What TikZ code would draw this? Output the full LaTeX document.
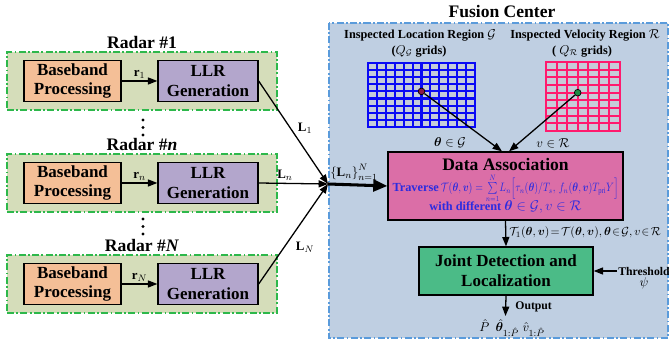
\documentclass[tikz,border=0pt]{standalone}
\usepackage{amsmath}
\usepackage{amssymb}
\usepackage{bm}
\usepackage{fontspec}
\setmainfont{Liberation Serif}
\usepackage{tikz}
\usetikzlibrary{positioning, arrows.meta}

\definecolor{radarbg}{HTML}{D5DDBA}
\definecolor{radarline}{HTML}{2DB84B}
\definecolor{bbfill}{HTML}{F4BF97}
\definecolor{llrfill}{HTML}{B3A6CC}
\definecolor{fusionbg}{HTML}{BFCFE2}
\definecolor{fusionline}{HTML}{5A9BDB}
\definecolor{dafill}{HTML}{DB6EA7}
\definecolor{jdfill}{HTML}{4BBB87}
\definecolor{locblue}{HTML}{0A0AF5}
\definecolor{velpink}{HTML}{FF1A6E}
\definecolor{cellgray}{HTML}{C6CCD9}
\definecolor{txtblue}{HTML}{2B2BE0}
\definecolor{locdot}{HTML}{8B1A4A}
\definecolor{veldot}{HTML}{1E8C45}

\begin{document}
\begin{tikzpicture}[
    x=0.03cm, y=-0.03cm,
    block/.style={draw, line width=1.1pt, minimum height=1.23cm, align=center, inner sep=1pt,
        font=\bfseries\fontsize{14.5}{17}\selectfont},
    bbbox/.style={block, fill=bbfill, minimum width=2.91cm},
    llrbox/.style={block, fill=llrfill, minimum width=3cm},
    radarbox/.style={draw=radarline, fill=radarbg, line width=1.2pt,
        dash pattern=on 6pt off 2pt on 1.5pt off 2pt, minimum width=8.1cm, minimum height=1.74cm},
    title/.style={font=\bfseries\fontsize{15}{17}\selectfont, inner sep=1pt},
    region/.style={font=\bfseries\fontsize{10.5}{12}\selectfont, inner sep=1pt},
    lbl/.style={font=\fontsize{11}{13}\selectfont, inner sep=1pt},
    smalltxt/.style={font=\bfseries\fontsize{10}{12}\selectfont, inner sep=1pt},
    gridline/.style={line width=1.8pt, line cap=rect},
    gridpt/.style={circle, draw=black, line width=0.6pt, minimum size=0.2cm, inner sep=0pt},
    arrow/.style={-{Triangle[length=8pt, width=6pt]}, line width=1.1pt},
    bigarrow/.style={-{Triangle[length=12pt, width=10pt]}, line width=2.6pt}
]
\useasboundingbox (0,0) rectangle (669,348);

% Radars
\foreach \k/\yc/\tit in {1/81/1, n/183/\textit{n}, N/284/\textit{N}} {
    \node[radarbox] (radar\k) at (142,\yc) {};
    \node[title, above=1pt of radar\k] (rtitle\k) {Radar \#\tit};
    \node[bbbox] (bb\k) at (72.5,\yc) {Baseband\\Processing};
    \node[llrbox] (llr\k) at (208,\yc) {LLR\\Generation};
    \draw[arrow] (bb\k) -- node[lbl, above=1pt] {$\mathbf{r}_{\k}$} (llr\k);
}
\foreach \yd in {120,127.5,135,219,226.5,234}
    \fill (143,\yd) circle (1.4pt);

% Fusion center frame
\draw[draw=fusionline, fill=fusionbg, line width=1.3pt,
    dash pattern=on 6pt off 2pt on 1.5pt off 2pt] (329,23) rectangle (668,338);
\node[title] (fctitle) at (502,12) {Fusion Center};
\coordinate (fuse) at (328,184);

% Search grids
\node[region] (loctitle) at (420,35) {Inspected Location Region $\mathcal{G}$};
\node[region] (locgrids) at (419,51) {($Q_{\mathcal{G}}$ grids)};
\node[region] (veltitle) at (585,35) {Inspected Velocity Region $\mathcal{R}$};
\node[region] (velgrids) at (582,51) {( $Q_{\mathcal{R}}$ grids)};

\fill[cellgray] (368,63) rectangle (475,127);
\foreach \c in {0,...,12}
    \draw[locblue, gridline] ({368+\c*107/12},63) -- ({368+\c*107/12},127);
\foreach \r in {0,...,9}
    \draw[locblue, gridline] (368,{63+\r*64/9}) -- (475,{63+\r*64/9});

\fill[cellgray] (546,62) rectangle (620,131);
\foreach \c in {0,...,7}
    \draw[velpink, gridline] ({546+\c*74/7},62) -- ({546+\c*74/7},131);
\foreach \r in {0,...,9}
    \draw[velpink, gridline] (546,{62+\r*69/9}) -- (620,{62+\r*69/9});

\node[gridpt, fill=locdot] (loc) at (421.5,91.4) {};
\node[gridpt, fill=veldot] (vel) at (577.7,92.7) {};

% Processing blocks
\node[block, fill=dafill, minimum width=7.05cm, minimum height=2.04cm] (da) at (505.5,186) {%
    {\fontsize{15}{17}\selectfont Data Association}\\[0.5pt]
    {\color{txtblue}\fontsize{10.5}{12}\selectfont Traverse\,\scalebox{0.77}[0.95]{%
        $\mathcal{T}(\bm{\theta},\bm{v})=\sum\limits_{n=1}^{N}\!L_n\Big[\tau_n(\bm{\theta})/T_s,\,f_n(\bm{\theta},\bm{v})T_{\mathrm{pri}}Y\Big]$}}\\[-2.5pt]
    {\color{txtblue}\fontsize{10.5}{12}\selectfont with different
        {\fontsize{13}{14}\selectfont$\bm{\theta}\in\mathcal{G},v\in\mathcal{R}$}}};
\node[block, fill=jdfill, minimum width=5.22cm, minimum height=1.44cm] (jd) at (506,271)
    {Joint Detection and\\Localization};

\node[smalltxt, anchor=west] (thr) at (617,271) {Threshold};
\node[lbl, below=0pt of thr] (psi) {$\psi$};
\coordinate (out) at (505.5,316);
\node[smalltxt, anchor=west] (outlbl) at (514,307) {Output};
\node[lbl] (res) at (512,328) {$\hat{P}\ \ \hat{\bm{\theta}}_{1:\hat{P}}\;\hat{v}_{1:\hat{P}}$};

% Connections
\foreach \k in {1,n,N}
    \draw[arrow] (llr\k.east) -- (fuse);
\node[lbl] (l1) at (305,128) {$\mathbf{L}_1$};
\node[lbl] (ln) at (285,175) {$\mathbf{L}_n$};
\node[lbl] (lN) at (305,247) {$\mathbf{L}_N$};
\node[lbl] (lset) at (354,172) {$\left\{\mathbf{L}_n\right\}_{n=1}^{N}$};
\draw[bigarrow] (fuse) -- (da.west);

\draw[arrow] (loc) -- ([xshift=-3pt]da.north);
\draw[arrow] (vel) -- ([xshift=3pt]da.north);
\node[lbl] (thetalbl) at (450,143) {$\bm{\theta}\in\mathcal{G}$};
\node[lbl] (vlbl) at (553,143) {$v\in\mathcal{R}$};

\draw[arrow] (da.south) -- (jd.north);
\node[lbl, anchor=west, font=\fontsize{9.8}{12}\selectfont] (tlbl) at (508,233)
    {$\mathcal{T}_1(\bm{\theta},\bm{v})\!=\!\mathcal{T}(\bm{\theta},\bm{v}),\bm{\theta}\!\in\!\mathcal{G},v\!\in\!\mathcal{R}$};
\draw[arrow] (thr.west) -- (jd.east);
\draw[arrow] (jd.south) -- (out);

\end{tikzpicture}
\end{document}
